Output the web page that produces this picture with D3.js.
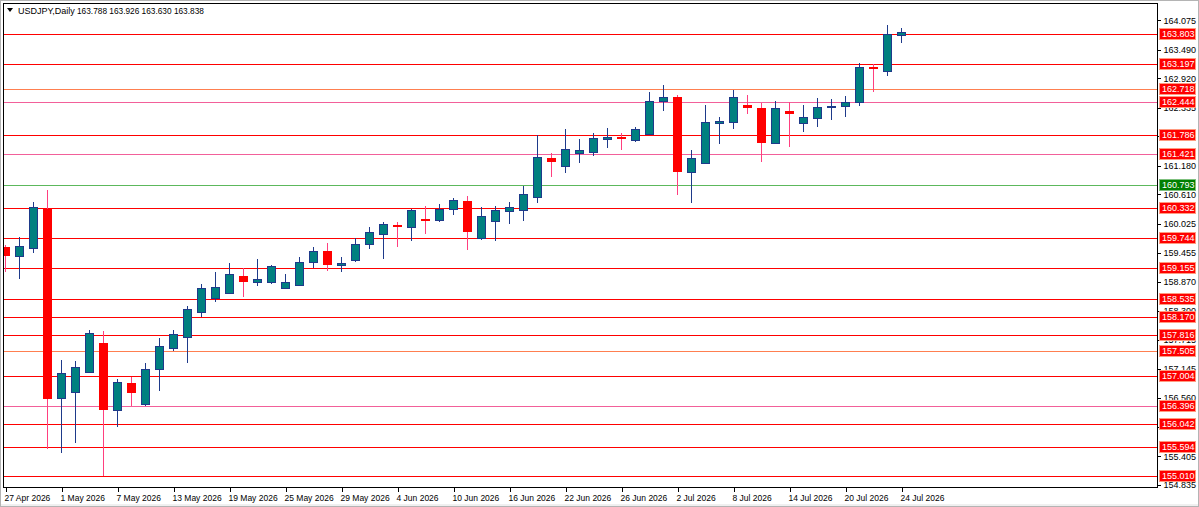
<!DOCTYPE html>
<html>
<head>
<meta charset="utf-8">
<script src="https://cdn.jsdelivr.net/npm/d3@7"></script>
<style>
  html, body { margin: 0; padding: 0; background: #fff; }
  svg { display: block; font-family: "Liberation Sans", Arial, sans-serif; }
</style>
</head>
<body>
<svg id="chart" width="1199" height="507"></svg>
<script>
//  === Data ===
var symbolTitle = "USDJPY,Daily";
var lastQuote = ["163.788", "163.926", "163.630", "163.838"];

// one label every 4 daily bars
var dateLabels = ["27 Apr 2026", "1 May 2026", "7 May 2026", "13 May 2026", "19 May 2026",
    "25 May 2026", "29 May 2026", "4 Jun 2026", "10 Jun 2026", "16 Jun 2026", "22 Jun 2026",
    "26 Jun 2026", "2 Jul 2026", "8 Jul 2026", "14 Jul 2026", "20 Jul 2026", "24 Jul 2026"];

var opens = [159.566, 159.387, 159.540, 160.316, 156.556, 156.675, 157.085, 157.662, 156.323, 156.860,
    156.437, 157.133, 157.551, 157.781, 158.279, 158.545, 158.645, 158.989, 158.864, 158.875,
    158.756, 158.804, 159.261, 159.486, 159.208, 159.307, 159.619, 159.824, 160.003, 159.970,
    160.117, 160.097, 160.316, 160.487, 159.745, 160.089, 160.282, 160.302, 160.566, 161.330,
    161.183, 161.442, 161.450, 161.720, 161.754, 161.694, 161.814, 162.476, 162.544, 161.064,
    161.243, 162.038, 162.058, 162.391, 162.331, 161.641, 162.277, 162.027, 162.126, 162.345,
    162.377, 162.444, 163.141, 163.073, 163.788];
var highs = [159.606, 159.771, 160.461, 160.700, 157.318, 157.298, 157.915, 157.901, 156.940, 156.986,
    157.264, 157.750, 157.915, 158.392, 158.830, 159.062, 159.242, 159.142, 159.327, 159.208,
    159.029, 159.361, 159.572, 159.651, 159.361, 159.739, 159.958, 160.069, 160.063, 160.316,
    160.381, 160.421, 160.535, 160.586, 160.356, 160.381, 160.455, 160.785, 161.794, 161.442,
    161.913, 161.714, 161.828, 161.927, 161.840, 161.959, 162.649, 162.788, 162.590, 161.495,
    162.391, 162.158, 162.689, 162.590, 162.436, 162.470, 162.444, 162.391, 162.524, 162.504,
    162.570, 163.220, 163.206, 163.982, 163.926];
var lows = [159.068, 158.929, 159.452, 155.547, 155.474, 155.673, 157.053, 155.010, 155.991, 156.403,
    156.409, 156.707, 157.503, 157.264, 158.179, 158.478, 158.625, 158.565, 158.790, 158.830,
    158.744, 158.790, 159.142, 159.088, 159.074, 159.273, 159.520, 159.327, 159.572, 159.691,
    159.824, 160.069, 160.202, 159.506, 159.705, 159.691, 160.017, 160.083, 160.447, 160.952,
    161.044, 161.243, 161.376, 161.529, 161.495, 161.661, 161.804, 162.271, 160.600, 160.447,
    161.237, 161.615, 161.907, 162.212, 161.251, 161.629, 161.561, 161.859, 161.959, 162.092,
    162.158, 162.371, 162.655, 162.967, 163.630];
var closes = [159.387, 159.586, 160.356, 156.536, 157.053, 157.185, 157.849, 156.323, 156.874, 156.655,
    157.133, 157.596, 157.829, 158.326, 158.744, 158.764, 159.023, 158.875, 158.929, 159.188,
    158.864, 159.267, 159.486, 159.208, 159.242, 159.625, 159.864, 160.023, 159.970, 160.302,
    160.089, 160.328, 160.501, 159.858, 160.192, 160.302, 160.367, 160.614, 161.350, 161.251,
    161.515, 161.495, 161.728, 161.754, 161.708, 161.907, 162.476, 162.544, 161.064, 161.330,
    162.046, 162.072, 162.556, 162.337, 161.641, 162.325, 162.206, 162.146, 162.357, 162.377,
    162.456, 163.141, 163.107, 163.797, 163.838];

// horizontal levels drawn on the chart
var levels = [163.803, 163.197, 162.718, 162.444, 161.786, 161.421, 160.793, 160.332, 159.744, 159.155,
    158.535, 158.170, 157.816, 157.505, 157.004, 156.396, 156.042, 155.594, 155.010];

// price scale labels
var priceTicks = [164.075, 163.490, 162.920, 162.335, 161.765, 161.180, 160.610, 160.025, 159.455,
    158.870, 158.300, 157.715, 157.145, 156.560, 155.990, 155.405, 154.835];
// /Data

//  === Styles ===
var levelStroke = { 162.718: "#ff7f50", 157.505: "#ff7f50",
    162.444: "#f2609a", 161.421: "#f2609a", 156.396: "#f2609a",
    160.793: "#5cb85c" };
function lineColor(v) { return levelStroke[v] || "#ff0000"; }

var bullFill = "#008080", bullLine = "#1e3a8a";
var bearFill = "#ff0000", bearWick = "#ff3f7f";

var plotLeft = 4, plotTop = 4, plotRight = 1157, plotBottom = 487;

var svg = d3.select("#chart");

// scales
var x = d3.scaleLinear().domain([0, opens.length - 1]).range([5, 901]);
var y = d3.scaleLinear().domain([154.835, 164.075]).range([484.8, 20.3]);

// window border
svg.append("rect")
    .attr("x", 0.5).attr("y", 0.5).attr("width", 1198).attr("height", 506)
    .attr("fill", "#fff").attr("stroke", "#b4b4b4");
svg.append("rect")
    .attr("x", 1).attr("y", 504).attr("width", 1197).attr("height", 2)
    .attr("fill", "#f0f0f0");

svg.append("defs").append("clipPath").attr("id", "plotClip")
    .append("rect")
    .attr("x", plotLeft).attr("y", plotTop)
    .attr("width", plotRight - plotLeft).attr("height", plotBottom - plotTop);

var plot = svg.append("g").attr("clip-path", "url(#plotClip)");

//  === Level lines ===
plot.selectAll(".level")
    .data(levels)
    .enter()
    .append("line")
    .attr("class", "level")
    .attr("x1", plotLeft).attr("x2", plotRight)
    .attr("y1", function (d) { return Math.round(y(d)) + 0.5; })
    .attr("y2", function (d) { return Math.round(y(d)) + 0.5; })
    .attr("stroke", lineColor)
    .attr("stroke-width", 1)
    .attr("shape-rendering", "crispEdges");

//  === Candles ===
var bars = d3.range(opens.length);

plot.selectAll(".wick")
    .data(bars)
    .enter()
    .append("line")
    .attr("class", "wick")
    .attr("x1", function (i) { return Math.round(x(i)) + 0.5; })
    .attr("x2", function (i) { return Math.round(x(i)) + 0.5; })
    .attr("y1", function (i) { return Math.round(y(highs[i])); })
    .attr("y2", function (i) { return Math.round(y(lows[i])); })
    .attr("stroke", function (i) { return closes[i] >= opens[i] ? bullLine : bearWick; })
    .attr("shape-rendering", "crispEdges");

plot.selectAll(".body")
    .data(bars)
    .enter()
    .append("rect")
    .attr("class", "body")
    .each(function (i) {
        var up = closes[i] >= opens[i];
        var top = Math.round(y(Math.max(opens[i], closes[i])));
        var bot = Math.round(y(Math.min(opens[i], closes[i])));
        var cx = Math.round(x(i));
        var r = d3.select(this);
        if (up) {
            r.attr("x", cx - 4 + 0.5).attr("y", top + 0.5)
                .attr("width", 8).attr("height", Math.max(bot - top, 1))
                .attr("fill", bullFill).attr("stroke", bullLine);
        } else {
            r.attr("x", cx - 4).attr("y", top)
                .attr("width", 9).attr("height", Math.max(bot - top, 2))
                .attr("fill", bearFill);
        }
    })
    .attr("shape-rendering", "crispEdges");

//  === Frame ===
svg.append("rect")
    .attr("x", plotLeft - 0.5).attr("y", plotTop - 0.5)
    .attr("width", plotRight - plotLeft + 1).attr("height", plotBottom - plotTop + 1)
    .attr("fill", "none").attr("stroke", "#000")
    .attr("shape-rendering", "crispEdges");

//  === Price axis ===
var yAxis = svg.append("g")
    .attr("transform", "translate(" + (plotRight + 0.5) + ",0)")
    .call(d3.axisRight(y).tickValues(priceTicks).tickSize(3).tickPadding(3)
        .tickFormat(d3.format(".3f")));
yAxis.select(".domain").remove();
yAxis.selectAll("line").attr("stroke", "#000").attr("shape-rendering", "crispEdges");
yAxis.selectAll("text")
    .attr("font-family", "Liberation Sans, Arial, sans-serif")
    .attr("font-size", 9).attr("fill", "#000");

// level price labels
var tags = svg.selectAll(".tag")
    .data(levels)
    .enter()
    .append("g")
    .attr("class", "tag")
    .attr("transform", function (d) { return "translate(1159," + Math.round(y(d)) + ")"; });
tags.append("rect")
    .attr("x", 0.5).attr("y", -5.5).attr("width", 36).attr("height", 11)
    .attr("fill", function (d) { return d == 160.793 ? "#008000" : "#ff0000"; })
    .attr("stroke", function (d) { return d == 160.793 ? "#7fc07f" : "#ff9a80"; })
    .attr("shape-rendering", "crispEdges");
tags.append("text")
    .attr("x", 3).attr("y", 0).attr("dy", "0.35em")
    .attr("font-size", 9).attr("fill", "#fff")
    .text(function (d) { return d3.format(".3f")(d); });

//  === Date axis ===
var tickBars = d3.range(0, opens.length, 4);
var xAxis = svg.append("g")
    .attr("transform", "translate(0," + (plotBottom + 0.5) + ")")
    .call(d3.axisBottom(x).tickValues(tickBars).tickSize(4).tickPadding(3)
        .tickFormat(function (d, i) { return dateLabels[i]; }));
xAxis.select(".domain").remove();
xAxis.selectAll("line")
    .attr("transform", "translate(0.5,0)")
    .attr("stroke", "#000").attr("shape-rendering", "crispEdges");
xAxis.selectAll("text")
    .attr("text-anchor", "start").attr("x", -1)
    .attr("font-family", "Liberation Sans, Arial, sans-serif")
    .attr("font-size", 8.5).attr("fill", "#000");

//  === Header ===
svg.append("path")
    .attr("d", "M7,8 L13,8 L10,12 Z")
    .attr("fill", "#000");
svg.append("text")
    .attr("x", 18).attr("y", 14)
    .attr("font-size", 9).attr("fill", "#000")
    .text(symbolTitle);
svg.append("text")
    .attr("x", 77).attr("y", 14)
    .attr("font-size", 8.3).attr("fill", "#000")
    .text(lastQuote.join(" "));
// /Header
</script>
</body>
</html>
